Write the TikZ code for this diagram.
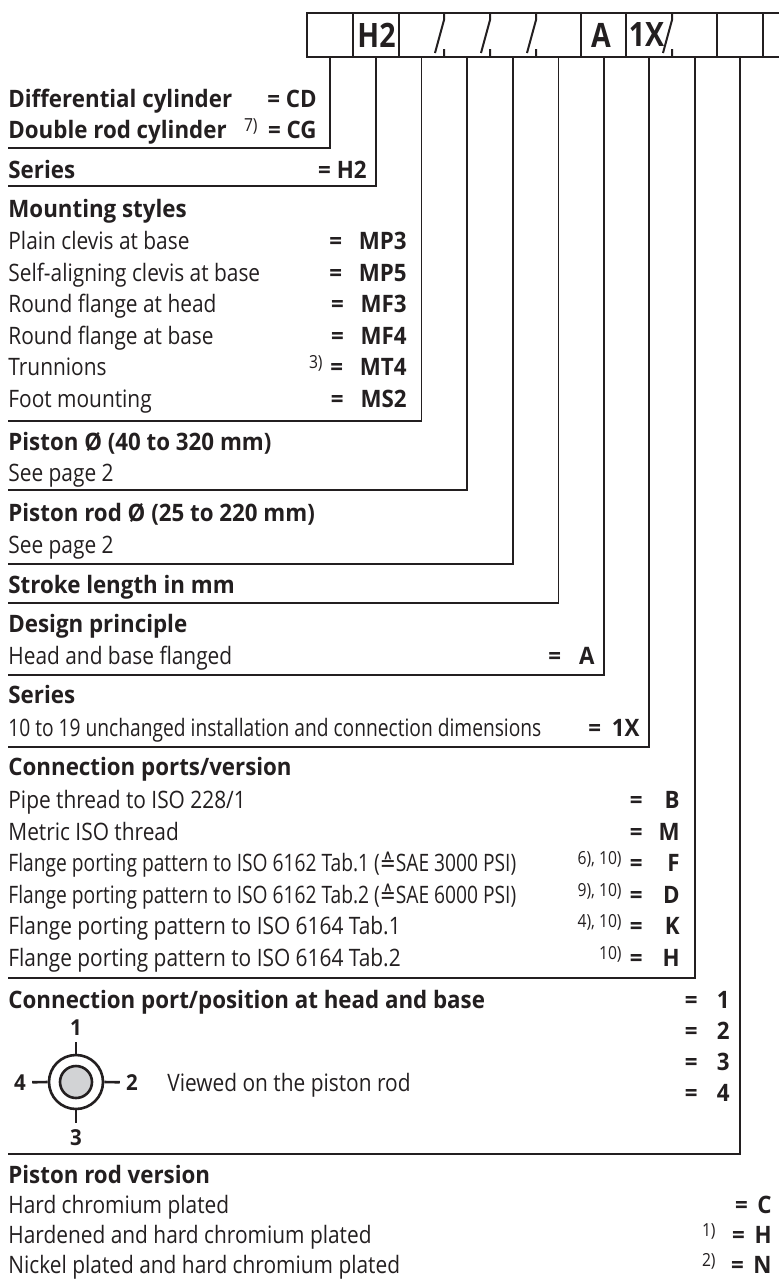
\documentclass[tikz,border=0pt]{standalone}
\usepackage{fontspec}
\newfontfamily\lightfont{Open Sans}[FakeStretch=0.87]
\newfontfamily\narrowfont{Open Sans}[FakeStretch=0.8]
\newfontfamily\heavyfont{Open Sans}[FakeStretch=0.93]
\newfontfamily\cellfont{Open Sans}[FakeStretch=0.85]
\newfontfamily\symfont{DejaVu Sans}[FakeStretch=0.8]
\definecolor{ink}{HTML}{231F20}
\definecolor{rodgrey}{HTML}{D2D3D5}

\tikzset{
  item/.style={anchor=base west,inner sep=0pt,text=ink,font=\lightfont\fontsize{12}{14}\selectfont},
  tight/.style={item,font=\narrowfont\fontsize{12}{14}\selectfont},
  head/.style={item,font=\heavyfont\bfseries\fontsize{12}{14}\selectfont},
  code/.style={anchor=base east,inner sep=0pt,text=ink,font=\heavyfont\bfseries\fontsize{12}{14}\selectfont},
  note/.style={anchor=base east,inner sep=0pt,text=ink,font=\lightfont\fontsize{9}{10}\selectfont},
  cell/.style={inner sep=0pt,text=ink,font=\cellfont\bfseries\fontsize{16.8}{18}\selectfont},
  portlabel/.style={inner sep=3pt,text=ink,font=\heavyfont\bfseries\fontsize{11}{12}\selectfont},
  lead/.style={line width=0.75pt,draw=ink},
}

\begin{document}
\begin{tikzpicture}[x=0.5pt,y=-0.5pt]
  \useasboundingbox [fill=white] (0,0) rectangle (778,1281);
  % type code box
  \draw [line width=1pt,ink] (307,13) rectangle (808,57);
  \draw [line width=1pt,ink] (353,13) -- (353,57);
  \draw [line width=1pt,ink] (399,13) -- (399,57);
  \draw [line width=1pt,ink] (581,13) -- (581,57);
  \draw [line width=1pt,ink] (626,13) -- (626,57);
  \draw [line width=1pt,ink] (717,13) -- (717,57);
  \draw [line width=1pt,ink] (763,13) -- (763,57);
  \draw [line width=1pt,ink] (444,13) -- (444,20) (444,49) -- (444,57) (435,53) -- (444,20);
  \draw [line width=1pt,ink] (490,13) -- (490,20) (490,49) -- (490,57) (481,53) -- (490,20);
  \draw [line width=1pt,ink] (536,13) -- (536,20) (536,49) -- (536,57) (527,53) -- (536,20);
  \draw [line width=1pt,ink] (672,13) -- (672,20) (672,49) -- (672,57) (663,53) -- (672,20);
  \node [cell] (boxH2) at (376.5,35) {H2};
  \node [cell] (boxA) at (601,35) {A};
  \node [cell] (boxX) at (646.5,35) {1X};

  \coordinate (s1) at (330,57);
  \coordinate (s2) at (376,57);
  \coordinate (s3) at (421.5,57);
  \coordinate (s4) at (467,57);
  \coordinate (s5) at (513,57);
  \coordinate (s6) at (558.5,57);
  \coordinate (s7) at (604,57);
  \coordinate (s8) at (649,57);
  \coordinate (s9) at (695,57);
  \coordinate (s10) at (740,57);
  \coordinate (e1) at (8,148);
  \coordinate (e2) at (8,186);
  \coordinate (e3) at (8,421);
  \coordinate (e4) at (8,490);
  \coordinate (e5) at (8,564);
  \coordinate (e6) at (8,603);
  \coordinate (e7) at (8,675);
  \coordinate (e8) at (8,747);
  \coordinate (e9) at (8,978);
  \coordinate (e10) at (8,1154);
  \draw [lead] (s1) |- (e1);
  \draw [lead] (s2) |- (e2);
  \draw [lead] (s3) |- (e3);
  \draw [lead] (s4) |- (e4);
  \draw [lead] (s5) |- (e5);
  \draw [lead] (s6) |- (e6);
  \draw [lead] (s7) |- (e7);
  \draw [lead] (s8) |- (e8);
  \draw [lead] (s9) |- (e9);
  \draw [lead] (s10) |- (e10);

  % cylinder type
  \node [head] (diff) at (8,107) {Differential cylinder};
  \node [code] (cd) at (317,107) {= CD};
  \node [head] (dbl) at (8,138) {Double rod cylinder};
  \node [note] (n7) at (258,131) {7)};
  \node [code] (cg) at (317,138) {= CG};
  % series
  \node [head] (ser) at (8,178) {Series};
  \node [code] (h2) at (367,178) {= H2};
  % mounting
  \node [head] (mount) at (8,217) {Mounting styles};
  \node [item] (m1) at (8,249.5) {Plain clevis at base};
  \node [code] (mp3) at (407,249.5) {=\hspace{0.7em}MP3};
  \node [item] (m2) at (8,281) {Self-aligning clevis at base};
  \node [code] (mp5) at (407,281) {=\hspace{0.7em}MP5};
  \node [item] (m3) at (8,312.5) {Round flange at head};
  \node [code] (mf3) at (407,312.5) {=\hspace{0.7em}MF3};
  \node [item] (m4) at (8,344) {Round flange at base};
  \node [code] (mf4) at (407,344) {=\hspace{0.7em}MF4};
  \node [item] (m5) at (8,375.5) {Trunnions};
  \node [note] (n3) at (323,368.5) {3)};
  \node [code] (mt4) at (407,375.5) {=\hspace{0.7em}MT4};
  \node [item] (m6) at (8,407) {Foot mounting};
  \node [code] (ms2) at (407,407) {=\hspace{0.7em}MS2};
  % piston
  \node [head] (pist) at (8,450) {Piston Ø (40 to 320 mm)};
  \node [item] (pistp) at (8,481) {See page 2};
  \node [head] (rod) at (8,521) {Piston rod Ø (25 to 220 mm)};
  \node [item] (rodp) at (8,553) {See page 2};
  \node [head] (stroke) at (8,593) {Stroke length in mm};
  % design
  \node [head] (design) at (8,632) {Design principle};
  \node [item] (flanged) at (8,664) {Head and base flanged};
  \node [code] (a) at (595,664) {=\hspace{0.75em}A};
  \node [head] (ser2) at (8,703) {Series};
  \node [tight] (dims) at (8,736) {10 to 19 unchanged installation and connection dimensions};
  \node [code] (x1) at (640,736) {=\hspace{0.45em}1X};
  % ports
  \node [head] (ports) at (8,775) {Connection ports/version};
  \node [item] (pipe) at (8,808) {Pipe thread to ISO 228/1};
  \node [code] (eqB) at (643,808) {=};
  \node [code] (B) at (680,808) {B};
  \node [item] (metric) at (8,840) {Metric ISO thread};
  \node [code] (eqM) at (643,840) {=};
  \node [code] (M) at (680,840) {M};
  \node [tight] (fl1) at (8,871.5) {Flange porting pattern to ISO 6162 Tab.1 ({\symfont ≙}SAE 3000 PSI)};
  \node [note] (n6) at (622,864.5) {6), 10)};
  \node [code] (eqF) at (643,871.5) {=};
  \node [code] (F) at (680,871.5) {F};
  \node [tight] (fl2) at (8,903) {Flange porting pattern to ISO 6162 Tab.2 ({\symfont ≙}SAE 6000 PSI)};
  \node [note] (n9) at (622,896) {9), 10)};
  \node [code] (eqD) at (643,903) {=};
  \node [code] (D) at (680,903) {D};
  \node [item] (fl3) at (8,934.5) {Flange porting pattern to ISO 6164 Tab.1};
  \node [note] (n4) at (622,927.5) {4), 10)};
  \node [code] (eqK) at (643,934.5) {=};
  \node [code] (K) at (680,934.5) {K};
  \node [item] (fl4) at (8,966) {Flange porting pattern to ISO 6164 Tab.2};
  \node [note] (n10) at (622,959) {10)};
  \node [code] (eqH) at (643,966) {=};
  \node [code] (H) at (680,966) {H};
  % port position
  \node [head] (place) at (8,1008) {Connection port/position at head and base};
  \node [code] (q1) at (730,1008) {=\hspace{0.8em}1};
  \node [code] (q2) at (730,1039) {=\hspace{0.8em}2};
  \node [code] (q3) at (730,1070) {=\hspace{0.8em}3};
  \node [code] (q4) at (730,1101) {=\hspace{0.8em}4};
  \node [circle,draw=ink,line width=1.3pt,minimum size=27pt,inner sep=0pt] (port) at (76,1082) {};
  \node [circle,draw=ink,fill=rodgrey,line width=1.3pt,minimum size=16pt,inner sep=0pt] (core) at (76,1082) {};
  \node [portlabel] (k1) at (76,1027.5) {1};
  \node [portlabel] (k2) at (132,1082.5) {2};
  \node [portlabel] (k3) at (76,1137.5) {3};
  \node [portlabel] (k4) at (20,1082.5) {4};
  \draw [line width=1.3pt,ink] (port.north) -- (k1);
  \draw [line width=1.3pt,ink] (port.east) -- (k2);
  \draw [line width=1.3pt,ink] (port.south) -- (k3);
  \draw [line width=1.3pt,ink] (port.west) -- (k4);
  \node [item] (view) at (167,1091) {Viewed on the piston rod};
  % rod version
  \node [head] (version) at (8,1183) {Piston rod version};
  \node [item] (v1) at (8,1213.5) {Hard chromium plated};
  \node [code] (C) at (772,1213.5) {=\hspace{0.4em}C};
  \node [item] (v2) at (8,1243.5) {Hardened and hard chromium plated};
  \node [note] (n1) at (716,1236.5) {1)};
  \node [code] (Hc) at (772,1243.5) {=\hspace{0.4em}H};
  \node [item] (v3) at (8,1273) {Nickel plated and hard chromium plated};
  \node [note] (n2) at (716,1266) {2)};
  \node [code] (N) at (772,1273) {=\hspace{0.4em}N};
\end{tikzpicture}
\end{document}
